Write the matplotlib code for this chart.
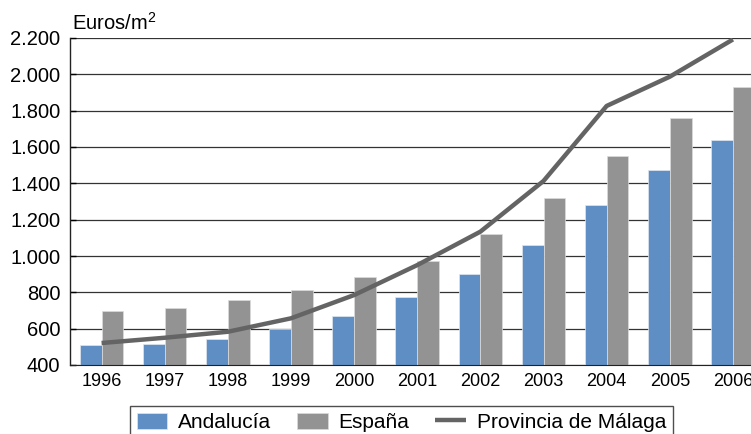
import matplotlib
matplotlib.use("Agg")
import matplotlib.pyplot as plt
import numpy as np

plt.rcParams['font.family'] = ['Liberation Sans', 'DejaVu Sans']
plt.rcParams['mathtext.fontset'] = 'custom'
plt.rcParams['mathtext.rm'] = 'Liberation Sans'
plt.rcParams['mathtext.it'] = 'Liberation Sans'

years = ['1996', '1997', '1998', '1999', '2000', '2001', '2002', '2003', '2004', '2005', '2006']
andalucia = [510, 517, 545, 596, 670, 776, 899, 1061, 1281, 1472, 1637]
espana = [696, 716, 756, 813, 884, 971, 1123, 1319, 1549, 1761, 1930]
malaga = [521, 550, 583, 657, 785, 950, 1134, 1413, 1826, 1987, 2192]
yticks = [400, 600, 800, 1000, 1200, 1400, 1600, 1800, 2000, 2200]
ytick_labels = ['400', '600', '800', '1.000', '1.200', '1.400', '1.600', '1.800', '2.000', '2.200']

W, H = 751, 434
fig = plt.figure(figsize=(W / 100, H / 100), dpi=100)
ax = fig.add_axes([70 / W, 1 - 365 / H, (764.5 - 70) / W, (365 - 38) / H])

x = np.arange(len(years))
w = 0.345
blue = '#5f8ec4'
gray = '#939393'
b1 = ax.bar(x - w / 2, andalucia, w, color=blue, edgecolor='#dfe6ef', linewidth=0.5, label='Andalucía', zorder=2)
b2 = ax.bar(x + w / 2, espana, w, color=gray, edgecolor='#dcdcdc', linewidth=0.5, label='España', zorder=2)
l1, = ax.plot(x, malaga, color='#646464', linewidth=3.2, label='Provincia de Málaga', zorder=3,
              solid_capstyle='butt')

ax.set_xlim(-0.5, len(years) - 0.5)
ax.set_ylim(400, 2200)
ax.set_yticks(yticks)
ax.set_yticklabels(ytick_labels)
ax.set_xticks(x)
ax.set_xticklabels(years)
ax.yaxis.grid(True, color='#333333', linewidth=0.9, zorder=0)
ax.set_axisbelow(True)
ax.tick_params(axis='y', direction='in', length=4, width=1, pad=7, labelsize=14.5, colors='black')
ax.tick_params(axis='x', length=0, pad=6, labelsize=13)
for s in ['top', 'right']:
    ax.spines[s].set_visible(False)
ax.spines['left'].set_color('#222222')
ax.spines['bottom'].set_color('#222222')
ax.spines['left'].set_linewidth(1)

fig.text(72 / W, 1 - 30 / H, 'Euros/m$^{2}$', fontsize=14.5, ha='left', va='baseline')

leg = fig.legend([b1, b2, l1], ['Andalucía', 'España', 'Provincia de Málaga'],
                 loc='upper left', bbox_to_anchor=(130 / W, 1 - 406 / H), ncol=3,
                 borderaxespad=0,
                 frameon=True, fancybox=False, fontsize=15, handlelength=1.45,
                 handleheight=0.8, columnspacing=1.25, handletextpad=0.53, borderpad=0.33)
leg.get_frame().set_edgecolor('#222222')
leg.get_frame().set_linewidth(1)

fig.savefig('out.png', dpi=100)
